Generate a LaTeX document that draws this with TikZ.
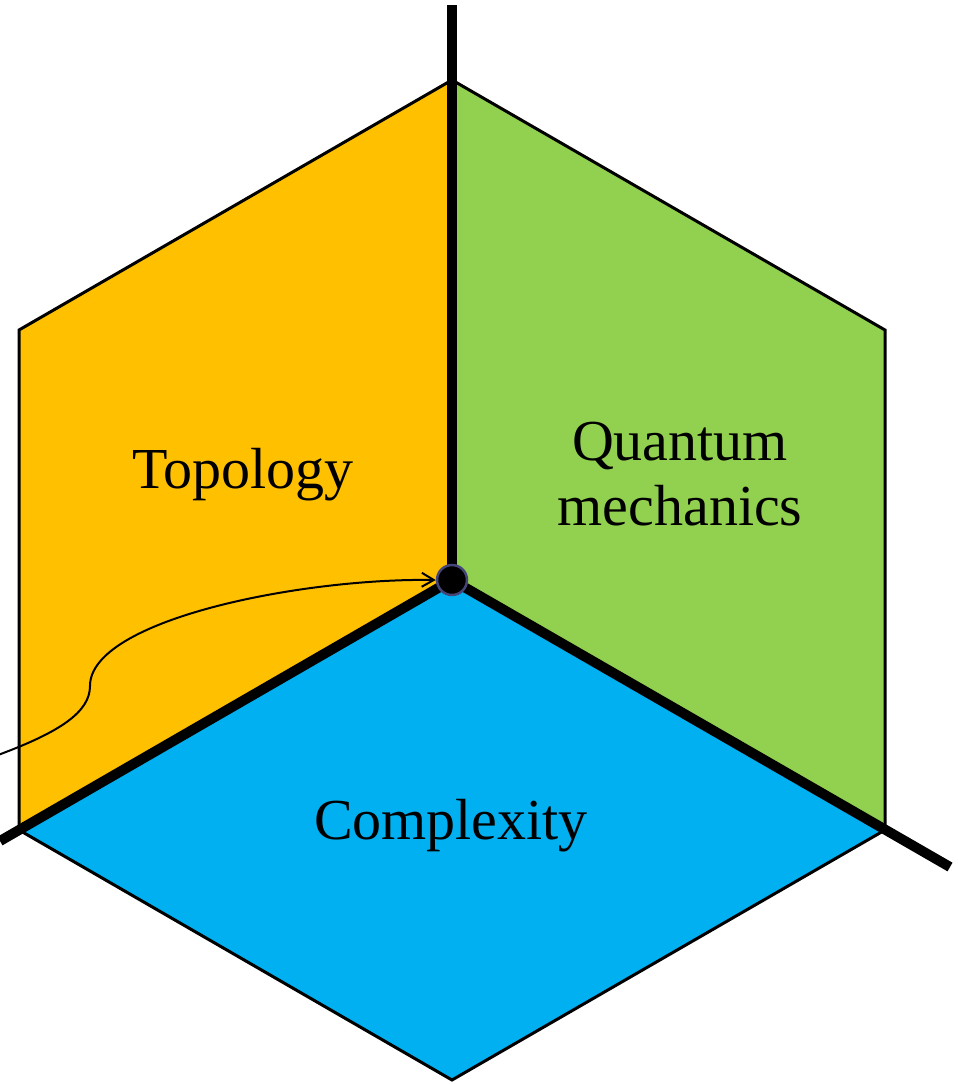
\documentclass[tikz,border=0pt]{standalone}
\usepackage{fontspec}
\setmainfont{Liberation Serif}
\usetikzlibrary{arrows.meta}
\definecolor{topo}{HTML}{FFC000}
\definecolor{quant}{HTML}{92D050}
\definecolor{compl}{HTML}{00B0F0}
\definecolor{dotring}{HTML}{45457A}
\tikzset{
  face/.style={draw=black, line width=3pt, line join=miter},
  axis/.style={draw=black, line width=10pt, line cap=butt},
  label/.style={font=\fontsize{58}{65}\selectfont, align=center, inner sep=0pt},
  pointer/.style={draw=black, line width=2pt, -{Straight Barb[length=12pt,width=14pt,line width=2pt]}},
}
\begin{document}
\begin{tikzpicture}[x=1pt,y=-1pt]
\useasboundingbox (0,0) rectangle (958,1084);
% hexagon vertices
\coordinate (O) at (452,580);
\coordinate (T) at (452,80);
\coordinate (TL) at (19,330);
\coordinate (BL) at (19,830);
\coordinate (B) at (452,1080);
\coordinate (BR) at (885,830);
\coordinate (TR) at (885,330);
% faces
\filldraw[face, fill=topo] (O) -- (T) -- (TL) -- (BL) -- cycle;
\filldraw[face, fill=quant] (O) -- (T) -- (TR) -- (BR) -- cycle;
\filldraw[face, fill=compl] (O) -- (BR) -- (B) -- (BL) -- cycle;
% axes
\coordinate (axT) at (452,5);
\coordinate (axL) at (0,841);
\coordinate (axR) at (950,867);
\draw[axis] (O) -- (axT);
\draw[axis] (O) -- (axL);
\draw[axis] (O) -- (axR);
% labels
\node[label] (topology) at (243,475) {Topology};
\node[label] (quantum) at (680,474) {Quantum\\mechanics};
\node[label] (complexity) at (451,826) {Complexity};
% centre dot
\node[circle, fill=black, draw=dotring, line width=2.5pt, minimum size=30pt, inner sep=0pt] (c) at (O) {};
% pointer curve
\coordinate (start) at (-2,755);
\draw[pointer] (start) .. controls (60,732) and (90,712) .. (90,686)
  .. controls (90,620) and (300,578) .. (c.west);
\end{tikzpicture}
\end{document}
